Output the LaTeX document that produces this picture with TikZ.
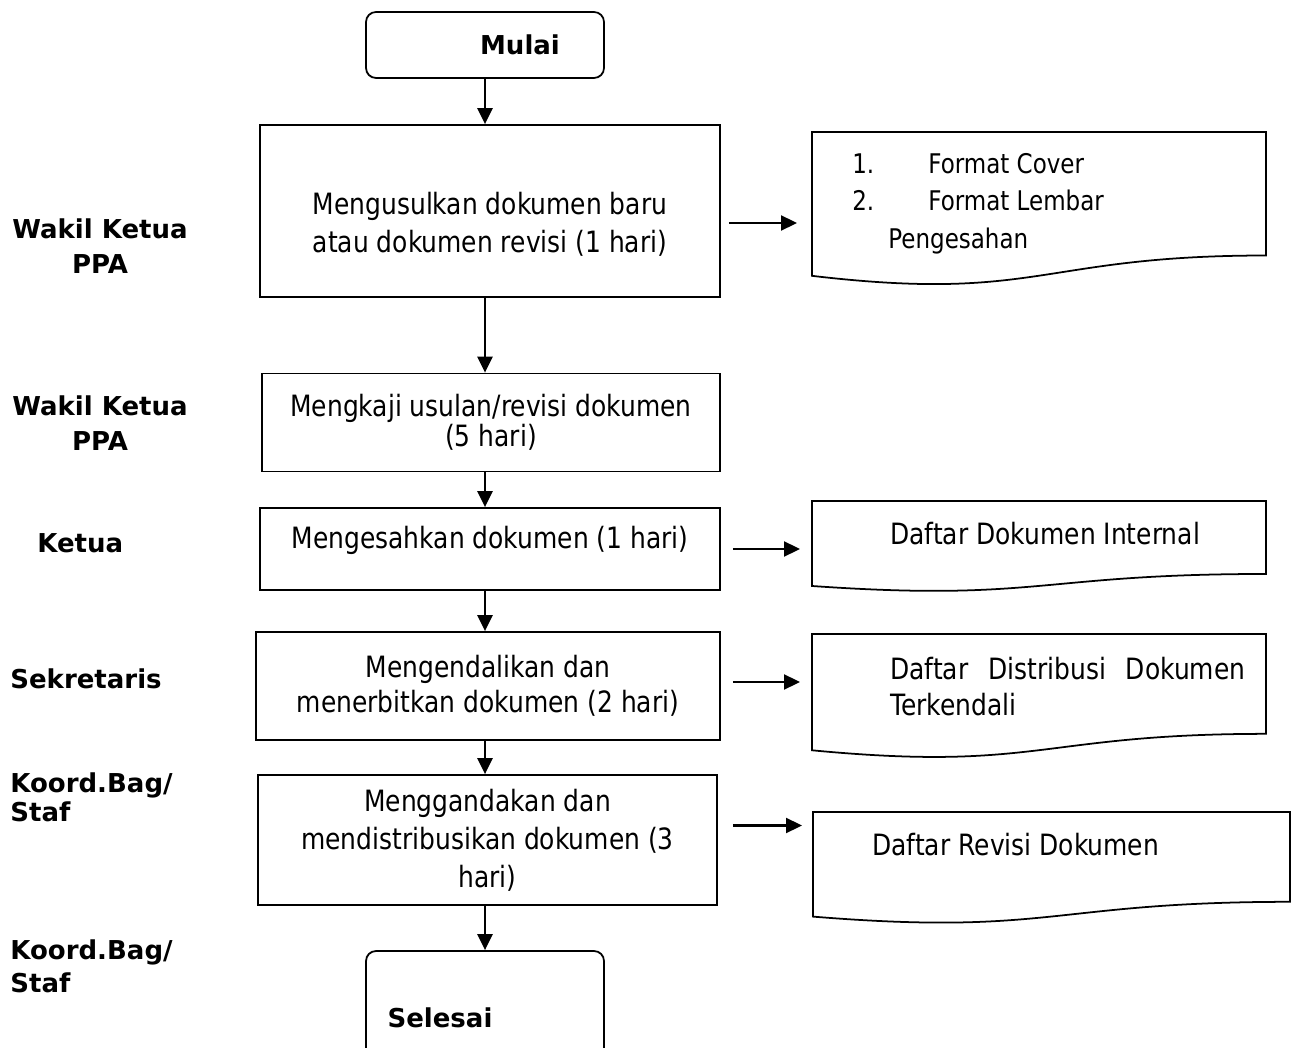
\documentclass[tikz,border=0pt]{standalone}
\usepackage{fontspec}
\setmainfont{DejaVu Sans}
\newfontfamily\flowfont{DejaVu Sans}[FakeStretch=0.85]
\usetikzlibrary{arrows.meta, calc, positioning}

% document symbol: flat top, wavy bottom edge
\newcommand{\docwave}[1]{%
  \draw[docline] (#1.north west) -- (#1.north east)
    -- ($(#1.north east)!0.802!(#1.south east)$)
    .. controls ($(#1.north)!0.802!(#1.south)$) and ($(#1.north)!1.108!(#1.south)$)
    .. ($(#1.north west)!0.934!(#1.south west)$) -- cycle;}

\begin{document}
\begin{tikzpicture}[
    >={Triangle[width=0.3cm,length=0.32cm]},
    stepbox/.style={rectangle, draw, line width=1pt, align=center, inner sep=2pt,
        font=\flowfont\fontsize{16.7pt}{21.6pt}\selectfont},
    termbox/.style={rectangle, draw, line width=1pt, rounded corners=0.2cm,
        minimum width=4.76cm, font=\bfseries\fontsize{14.8pt}{20pt}\selectfont},
    docbox/.style={rectangle, draw=none, inner sep=0pt, outer sep=0pt},
    docline/.style={line width=1pt},
    doctext/.style={anchor=north west, inner sep=0pt, align=left,
        font=\flowfont\fontsize{16.7pt}{21pt}\selectfont},
    role/.style={anchor=north west, inner sep=0pt,
        font=\bfseries\fontsize{14.8pt}{20pt}\selectfont},
    arrow/.style={->, line width=1.3pt},
]
\useasboundingbox (0,0) rectangle (25.82,-20.96);

% === MAIN FLOW ===
\node[termbox, minimum height=1.32cm] (mulai) at (9.70,-0.90) {\hspace*{1.4cm}Mulai};
\node[stepbox, minimum width=9.20cm, minimum height=3.44cm] (usul) at (9.80,-4.22)
    {\mbox{}\\[0.2cm]Mengusulkan dokumen baru\\atau dokumen revisi (1 hari)};
\node[stepbox, minimum width=9.16cm, minimum height=1.96cm,
    font=\flowfont\fontsize{16.7pt}{17pt}\selectfont] (kaji) at (9.82,-8.45)
    {Mengkaji usulan/revisi dokumen\\(5 hari)};
\node[stepbox, minimum width=9.20cm, minimum height=1.64cm] (sah) at (9.80,-10.98)
    {Mengesahkan dokumen (1 hari)\\[-0.3cm]\mbox{}};
\node[stepbox, minimum width=9.28cm, minimum height=2.16cm,
    font=\flowfont\fontsize{16.7pt}{20pt}\selectfont] (kendali) at (9.76,-13.72)
    {Mengendalikan dan\\menerbitkan dokumen (2 hari)};
\node[stepbox, minimum width=9.18cm, minimum height=2.60cm] (ganda) at (9.75,-16.80)
    {Menggandakan dan\\mendistribusikan dokumen (3\\hari)};
\node[termbox, minimum height=2.68cm] (selesai) at (9.70,-20.36) {Selesai\hspace*{1.8cm}};

% === DOCUMENTS ===
\node[docbox, minimum width=9.08cm, minimum height=3.08cm] (format) at (20.78,-4.18) {};
\node[docbox, minimum width=9.08cm, minimum height=1.82cm] (dafint) at (20.78,-10.93) {};
\node[docbox, minimum width=9.08cm, minimum height=2.49cm] (dafdist) at (20.78,-13.925) {};
\node[docbox, minimum width=9.54cm, minimum height=2.24cm] (dafrev) at (21.03,-17.36) {};
\docwave{format}
\docwave{dafint}
\docwave{dafdist}
\docwave{dafrev}

\node[doctext, font=\flowfont\fontsize{15.4pt}{21.3pt}\selectfont] (formattxt)
    at ([shift={(0.80,-0.42)}]format.north west)
    {\makebox[1.52cm][l]{1.}Format Cover\\\makebox[1.52cm][l]{2.}Format Lembar\\\hspace*{0.72cm}Pengesahan};
\node[doctext] (dafinttxt) at ([shift={(1.56,-0.42)}]dafint.north west) {Daftar Dokumen Internal};
\node[doctext, text width=7.1cm, align=justify,
    font=\flowfont\fontsize{16.7pt}{20.5pt}\selectfont] (dafdisttxt)
    at ([shift={(1.56,-0.46)}]dafdist.north west) {Daftar Distribusi Dokumen Terkendali};
\node[doctext] (dafrevtxt) at ([shift={(1.18,-0.42)}]dafrev.north west) {Daftar Revisi Dokumen};

% === ROLES ===
\node[role, align=center] (wakil1) at (0.24,-4.36) {Wakil Ketua\\PPA};
\node[role, align=center] (wakil2) at (0.24,-7.90) {Wakil Ketua\\PPA};
\node[role] (ketua) at (0.74,-10.66) {Ketua};
\node[role] (sekretaris) at (0.20,-13.36) {Sekretaris};
\node[role, align=left, font=\bfseries\fontsize{14.8pt}{17pt}\selectfont] (koord1)
    at (0.20,-15.44) {Koord.Bag/\\Staf};
\node[role, align=left, font=\bfseries\fontsize{14.8pt}{18.8pt}\selectfont] (koord2)
    at (0.20,-18.78) {Koord.Bag/\\Staf};

% === ARROWS ===
\draw[arrow] (mulai.south) -- (mulai.south |- usul.north);
\draw[arrow] (usul.south -| mulai) -- (kaji.north -| mulai);
\draw[arrow] (kaji.south -| mulai) -- (sah.north -| mulai);
\draw[arrow] (sah.south -| mulai) -- (kendali.north -| mulai);
\draw[arrow] (kendali.south -| mulai) -- (ganda.north -| mulai);
\draw[arrow] (ganda.south -| mulai) -- (selesai.north -| mulai);

\draw[arrow] ($(usul.east)+(0.16,-0.24)$) -- ($(usul.east -| format.west)+(-0.30,-0.24)$);
\draw[arrow] ($(sah.east)+(0.24,0)$) -- ($(sah.east -| dafint.west)+(-0.24,0)$);
\draw[arrow] ($(kendali.east)+(0.24,0.08)$) -- ($(kendali.east -| dafdist.west)+(-0.24,0.08)$);
\draw[arrow] ($(ganda.east)+(0.30,0.29)$) -- ($(ganda.east -| dafrev.west)+(-0.22,0.29)$);

\end{tikzpicture}
\end{document}
